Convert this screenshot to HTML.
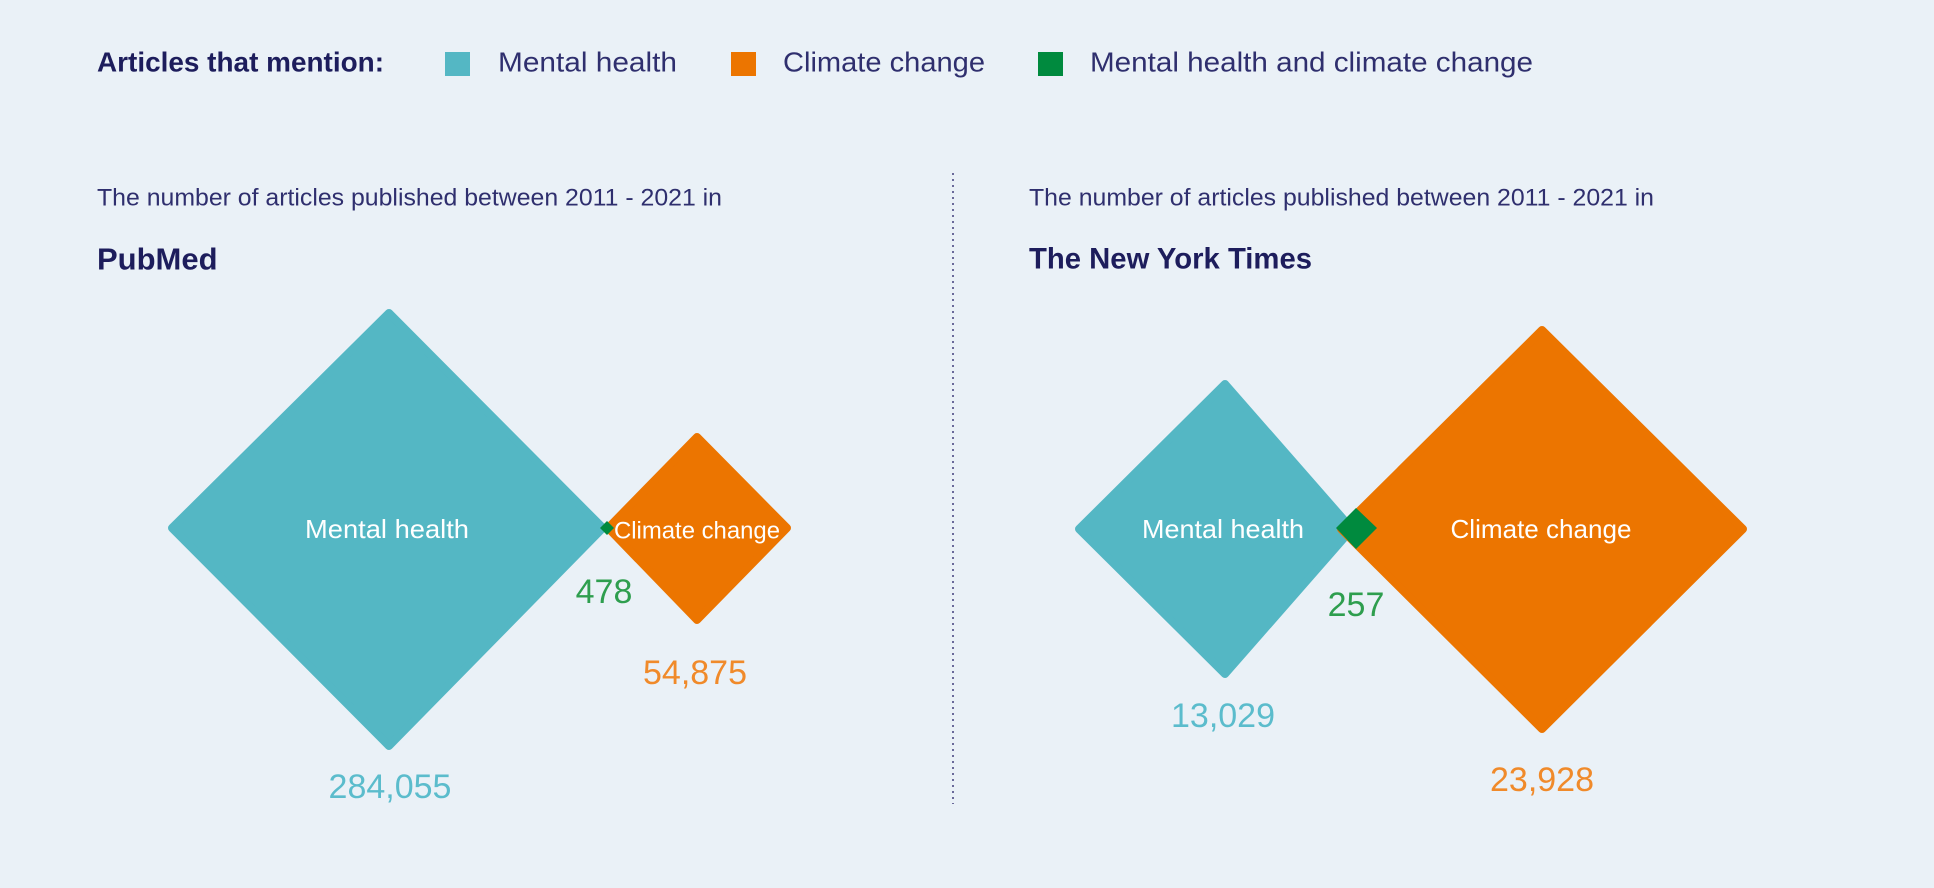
<!DOCTYPE html>
<html><head><meta charset="utf-8">
<style>
html,body{margin:0;padding:0;background:#eaf1f7;}
svg{display:block;}
text{font-family:"Liberation Sans",sans-serif;}
</style></head>
<body>
<svg width="1934" height="888" viewBox="0 0 1934 888" xmlns="http://www.w3.org/2000/svg">
<rect width="1934" height="888" fill="#eaf1f7"/>
<!-- legend -->
<text x="97" y="62" dominant-baseline="central" font-size="28" font-weight="bold" fill="#1d1d5c" textLength="287" lengthAdjust="spacingAndGlyphs">Articles that mention:</text>
<rect x="445" y="52" width="25" height="24" fill="#54b7c4"/>
<text x="498" y="62" dominant-baseline="central" font-size="28" fill="#2f2f6e" textLength="179" lengthAdjust="spacingAndGlyphs">Mental health</text>
<rect x="731" y="52" width="25" height="24" fill="#ec7500"/>
<text x="783" y="62" dominant-baseline="central" font-size="28" fill="#2f2f6e" textLength="202" lengthAdjust="spacingAndGlyphs">Climate change</text>
<rect x="1038" y="52" width="25" height="24" fill="#008a3e"/>
<text x="1090" y="62" dominant-baseline="central" font-size="28" fill="#2f2f6e" textLength="443" lengthAdjust="spacingAndGlyphs">Mental health and climate change</text>

<!-- divider -->
<line x1="953" y1="173" x2="953" y2="804" stroke="#6a6a9a" stroke-width="2" stroke-dasharray="2,4"/>

<!-- left panel -->
<text x="97" y="198" dominant-baseline="central" font-size="24" fill="#2f2f6e" textLength="625" lengthAdjust="spacingAndGlyphs">The number of articles published between 2011 - 2021 in</text>
<text x="97" y="259" dominant-baseline="central" font-size="31" font-weight="bold" fill="#1d1d5c">PubMed</text>

<g stroke-linejoin="round" stroke-width="8">
<polygon points="389,313 603,528 389,746 172,528" fill="#54b7c4" stroke="#54b7c4"/>
<polygon points="697,437 787,528 697,620 608,528" fill="#ec7500" stroke="#ec7500"/>
</g>
<polygon points="607,521 614,528 607,535 600,528" fill="#008a3e"/>
<text x="387" y="529" text-anchor="middle" dominant-baseline="central" font-size="26" fill="#ffffff" textLength="164" lengthAdjust="spacingAndGlyphs">Mental health</text>
<text x="697" y="531" text-anchor="middle" dominant-baseline="central" font-size="24" fill="#ffffff" textLength="166" lengthAdjust="spacingAndGlyphs">Climate change</text>
<text x="604" y="592" text-anchor="middle" dominant-baseline="central" font-size="34" fill="#2e9e4e">478</text>
<text x="695" y="673" text-anchor="middle" dominant-baseline="central" font-size="34" fill="#f08a2a">54,875</text>
<text x="390" y="787" text-anchor="middle" dominant-baseline="central" font-size="34" fill="#5bbccc">284,055</text>

<!-- right panel -->
<text x="1029" y="198" dominant-baseline="central" font-size="24" fill="#2f2f6e" textLength="625" lengthAdjust="spacingAndGlyphs">The number of articles published between 2011 - 2021 in</text>
<text x="1029" y="259" dominant-baseline="central" font-size="30" font-weight="bold" fill="#1d1d5c" textLength="283" lengthAdjust="spacingAndGlyphs">The New York Times</text>

<g stroke-linejoin="round" stroke-width="8">
<polygon points="1225,384 1352,529 1225,674 1079,529" fill="#54b7c4" stroke="#54b7c4"/>
<polygon points="1542,330 1743,529 1542,729 1341,529" fill="#ec7500" stroke="#ec7500"/>
</g>
<polygon points="1356,508 1377,528 1356,549 1336,528" fill="#008a3e"/>
<text x="1223" y="529" text-anchor="middle" dominant-baseline="central" font-size="26" fill="#ffffff" textLength="162" lengthAdjust="spacingAndGlyphs">Mental health</text>
<text x="1541" y="529" text-anchor="middle" dominant-baseline="central" font-size="26" fill="#ffffff" textLength="181" lengthAdjust="spacingAndGlyphs">Climate change</text>
<text x="1356" y="605" text-anchor="middle" dominant-baseline="central" font-size="34" fill="#2e9e4e">257</text>
<text x="1223" y="716" text-anchor="middle" dominant-baseline="central" font-size="34" fill="#5bbccc">13,029</text>
<text x="1542" y="780" text-anchor="middle" dominant-baseline="central" font-size="34" fill="#f08a2a">23,928</text>
</svg>
</body></html>
